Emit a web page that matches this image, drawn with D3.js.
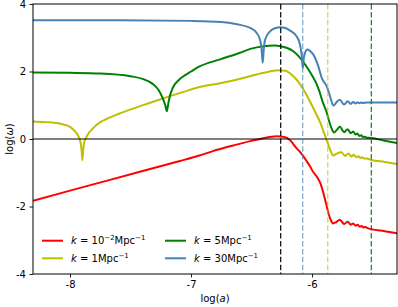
<!DOCTYPE html>
<html><head><meta charset="utf-8">
<script src="https://cdn.jsdelivr.net/npm/d3@7"></script>
<style>body{margin:0;background:#fff} text{font-family:"DejaVu Sans",sans-serif}</style>
</head><body><svg id="c" width="398" height="307"></svg>
<script>
const xTicks = [-8, -7, -6];
const yTicks = [-4, -2, 0, 2, 4];
const xDomain = [-8.306, -5.298];
const yDomain = [-4, 4];

const red = [[-8.306,-1.83],[-8.0,-1.53],[-7.7,-1.24],[-7.4,-0.95],[-7.1,-0.66],[-6.93,-0.49],[-6.82,-0.36],[-6.65,-0.19],[-6.52,-0.07],[-6.43,0.0],[-6.35,0.06],[-6.29,0.08],[-6.23,0.06],[-6.18,-0.04],[-6.155,-0.15],[-6.127,-0.28],[-6.10,-0.38],[-6.07,-0.52],[-6.04,-0.68],[-6.017,-0.81],[-5.99,-0.98],[-5.96,-1.12],[-5.93,-1.32],[-5.905,-1.62],[-5.885,-1.90],[-5.865,-2.19],[-5.845,-2.40],[-5.825,-2.50],[-5.80,-2.46],[-5.77,-2.39],[-5.735,-2.52],[-5.705,-2.45],[-5.68,-2.54],[-5.66,-2.50],[-5.64,-2.57],[-5.625,-2.54],[-5.605,-2.60],[-5.59,-2.58],[-5.575,-2.62],[-5.56,-2.61],[-5.54,-2.64],[-5.51,-2.67],[-5.40,-2.73],[-5.298,-2.79]];

const yellow = [[-8.306,0.52],[-8.2,0.50],[-8.08,0.45],[-8.0,0.36],[-7.96,0.23],[-7.93,0.08],[-7.912,-0.12],[-7.904,-0.35],[-7.898,-0.63],[-7.892,-0.35],[-7.884,-0.12],[-7.862,0.08],[-7.807,0.33],[-7.75,0.50],[-7.70,0.59],[-7.6,0.74],[-7.48,0.90],[-7.35,1.06],[-7.2,1.24],[-7.05,1.41],[-6.93,1.54],[-6.76,1.65],[-6.6,1.78],[-6.45,1.92],[-6.35,2.00],[-6.28,2.04],[-6.22,2.02],[-6.155,1.86],[-6.11,1.68],[-6.07,1.46],[-6.03,1.20],[-5.99,0.92],[-5.96,0.70],[-5.93,0.47],[-5.905,0.22],[-5.88,-0.02],[-5.85,-0.32],[-5.825,-0.49],[-5.80,-0.44],[-5.76,-0.39],[-5.725,-0.50],[-5.70,-0.43],[-5.675,-0.52],[-5.655,-0.47],[-5.635,-0.54],[-5.62,-0.51],[-5.60,-0.56],[-5.585,-0.54],[-5.57,-0.58],[-5.55,-0.58],[-5.51,-0.62],[-5.40,-0.68],[-5.298,-0.74]];

const green = [[-8.306,1.97],[-8.0,1.96],[-7.75,1.94],[-7.5,1.86],[-7.40,1.78],[-7.32,1.64],[-7.27,1.46],[-7.235,1.22],[-7.213,1.00],[-7.20,0.82],[-7.188,1.05],[-7.173,1.30],[-7.15,1.52],[-7.10,1.75],[-7.066,1.85],[-7.0,2.0],[-6.93,2.15],[-6.76,2.36],[-6.6,2.55],[-6.51,2.67],[-6.40,2.75],[-6.31,2.77],[-6.26,2.75],[-6.20,2.69],[-6.155,2.60],[-6.11,2.45],[-6.07,2.27],[-6.03,2.06],[-5.99,1.82],[-5.965,1.65],[-5.94,1.42],[-5.91,1.08],[-5.88,0.80],[-5.86,0.54],[-5.84,0.33],[-5.818,0.19],[-5.795,0.27],[-5.77,0.36],[-5.735,0.20],[-5.705,0.29],[-5.68,0.17],[-5.66,0.22],[-5.64,0.13],[-5.625,0.16],[-5.61,0.09],[-5.595,0.11],[-5.58,0.06],[-5.565,0.07],[-5.55,0.04],[-5.51,0.03],[-5.40,-0.05],[-5.298,-0.12]];

const blue = [[-8.306,3.52],[-7.6,3.52],[-7.0,3.50],[-6.75,3.47],[-6.62,3.40],[-6.512,3.29],[-6.457,3.14],[-6.43,2.94],[-6.418,2.70],[-6.408,2.26],[-6.398,2.70],[-6.388,2.94],[-6.347,3.19],[-6.30,3.29],[-6.264,3.31],[-6.22,3.29],[-6.182,3.21],[-6.127,3.04],[-6.099,2.79],[-6.085,2.45],[-6.077,2.10],[-6.068,2.40],[-6.058,2.55],[-6.039,2.65],[-6.02,2.62],[-5.989,2.50],[-5.948,2.15],[-5.92,1.81],[-5.90,1.68],[-5.879,1.56],[-5.851,1.26],[-5.824,0.99],[-5.795,1.10],[-5.77,1.16],[-5.735,1.02],[-5.705,1.12],[-5.68,1.04],[-5.66,1.10],[-5.64,1.05],[-5.625,1.09],[-5.61,1.06],[-5.595,1.08],[-5.58,1.07],[-5.55,1.08],[-5.298,1.08]];

const vLines = [-6.259, -6.077, -5.870, -5.51];
const vColors = ["#000000", "rgba(70,130,180,0.7)", "rgba(191,191,0,0.7)", "#1a801a"];

const series = [
  {data: red, color: "#ff0000", exp: "−2", base: "10", pos: 0},
  {data: yellow, color: "#bfbf00", exp: null, base: "1", pos: 1},
  {data: green, color: "#008000", exp: null, base: "5", pos: 2},
  {data: blue, color: "#4682b4", exp: null, base: "30", pos: 3}
];

const L = 33, R = 397, T = 4, B = 274;
const svg = d3.select("#c");
const x = d3.scaleLinear().domain(xDomain).range([L, R]);
const y = d3.scaleLinear().domain(yDomain).range([B, T]);

svg.append("defs").append("clipPath").attr("id","clip")
  .append("rect").attr("x",L).attr("y",T).attr("width",R-L).attr("height",B-T);

const plot = svg.append("g").attr("clip-path","url(#clip)");
const line = d3.line().x(d=>x(d[0])).y(d=>y(d[1])).curve(d3.curveMonotoneX);

series.forEach(s => {
  plot.append("path").attr("d", line(s.data)).attr("fill","none")
    .attr("stroke", s.color).attr("stroke-width", 2).attr("stroke-linejoin","round");
});

plot.append("line").attr("x1",L).attr("x2",R).attr("y1",y(0)).attr("y2",y(0))
  .attr("stroke","#000").attr("stroke-width",1.2);

vLines.forEach((v,i) => {
  plot.append("line").attr("x1",x(v)).attr("x2",x(v)).attr("y1",T).attr("y2",B)
    .attr("stroke",vColors[i]).attr("stroke-width",1.2).attr("stroke-dasharray","5.5,2.4");
});

const xa = svg.append("g").attr("transform",`translate(0,${B})`)
  .call(d3.axisBottom(x).tickValues(xTicks).tickSize(3.5).tickPadding(3.5).tickFormat(d=>String(d)));
const ya = svg.append("g").attr("transform",`translate(${L},0)`)
  .call(d3.axisLeft(y).tickValues(yTicks).tickSize(3.5).tickPadding(3.5).tickFormat(d=>String(d)));
[xa, ya].forEach(a => {
  a.select(".domain").remove();
  a.selectAll("text").attr("font-family","DejaVu Sans").attr("font-size",10).attr("fill","#000");
  a.selectAll("line").attr("stroke","#000").attr("stroke-width",0.9);
});

svg.append("rect").attr("x",L).attr("y",T).attr("width",R-L).attr("height",B-T)
  .attr("fill","none").attr("stroke","#000").attr("stroke-width",1);

svg.append("text").attr("x",(L+R)/2).attr("y",302).attr("text-anchor","middle")
  .attr("font-size",10).html('log(<tspan font-style="italic">a</tspan>)');
svg.append("text").attr("transform",`translate(13,${(T+B)/2}) rotate(-90)`).attr("text-anchor","middle")
  .attr("font-size",10).html('log(<tspan font-style="italic">ω</tspan>)');

const legX = [42, 165], legY = [240.7, 258.3];
series.forEach(s => {
  const col = Math.floor(s.pos/2), row = s.pos%2;
  const lx = legX[col], ly = legY[row];
  svg.append("line").attr("x1",lx).attr("x2",lx+21).attr("y1",ly).attr("y2",ly)
    .attr("stroke",s.color).attr("stroke-width",2);
  const t = svg.append("text").attr("x",lx+29).attr("y",ly+3.6).attr("font-size",10);
  t.append("tspan").attr("font-style","italic").text("k");
  t.append("tspan").text(" = " + s.base);
  if (s.exp) {
    t.append("tspan").attr("font-size",7).attr("dy",-4).text(s.exp);
    t.append("tspan").attr("dy",4).text("Mpc");
  } else {
    t.append("tspan").text("Mpc");
  }
  t.append("tspan").attr("font-size",7).attr("dy",-4).text("−1");
});
</script></body></html>
